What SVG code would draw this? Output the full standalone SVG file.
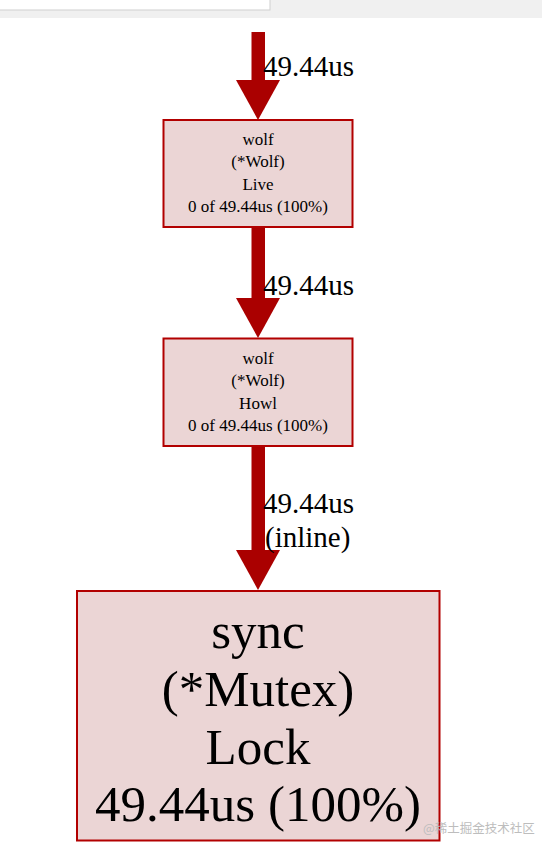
<svg xmlns="http://www.w3.org/2000/svg" width="542" height="852" viewBox="0 0 542 852">
<style>
.node rect{fill:#ebd5d5;stroke:#b20000;stroke-width:2}
.edge{fill:#aa0000;stroke:none}
text{font-family:"Liberation Serif","Times New Roman",serif;fill:#000;text-anchor:middle}
.s{font-size:17px}
.l{font-size:29px;text-anchor:start}
.b{font-size:51px}
.wm{font-family:"Noto Sans CJK SC","Noto Sans",sans-serif;font-size:12.5px;fill:#bdbdbd;text-anchor:start}
</style>
<rect x="0" y="0" width="542" height="852" fill="#ffffff"/>
<g id="topbar">
<rect x="0" y="0" width="542" height="18" fill="#f0f0f0"/>
<rect x="-1" y="-1" width="271" height="11" fill="#ffffff" stroke="#cfcfcf" stroke-width="1"/>
</g>
<g id="connectors">
<g id="e1">
<rect class="edge" x="251.5" y="32" width="13.5" height="50"/>
<polygon class="edge" points="236,80 280,80 258,120"/>
<text class="l" x="263" y="76">49.44us</text>
</g>
<g id="e2">
<rect class="edge" x="251.5" y="228" width="13.5" height="72"/>
<polygon class="edge" points="236,298 280,298 258,338"/>
<text class="l" x="263" y="295">49.44us</text>
</g>
<g id="e3">
<rect class="edge" x="251.5" y="447" width="13.5" height="105"/>
<polygon class="edge" points="236,550 280,550 258,590"/>
<text class="l" x="263" y="513">49.44us</text>
<text class="l" x="265" y="547">(inline)</text>
</g>
</g>
<g id="node1" class="node">
<rect x="163.5" y="120" width="189" height="107"/>
<text class="s" x="258" y="145">wolf</text>
<text class="s" x="258" y="167">(*Wolf)</text>
<text class="s" x="258" y="190">Live</text>
<text class="s" x="258" y="212">0 of 49.44us (100%)</text>
</g>
<g id="node2" class="node">
<rect x="163.5" y="338.5" width="189" height="107.5"/>
<text class="s" x="258" y="364">wolf</text>
<text class="s" x="258" y="386">(*Wolf)</text>
<text class="s" x="258" y="409">Howl</text>
<text class="s" x="258" y="431">0 of 49.44us (100%)</text>
</g>
<g id="node3" class="node">
<rect x="77" y="591" width="362.5" height="249.5"/>
<text class="b" x="258" y="648">sync</text>
<text class="b" x="258" y="706">(*Mutex)</text>
<text class="b" x="258" y="764">Lock</text>
<text class="b" x="258" y="821">49.44us (100%)</text>
</g>
<text class="wm" x="423" y="833">@稀土掘金技术社区</text>
</svg>
